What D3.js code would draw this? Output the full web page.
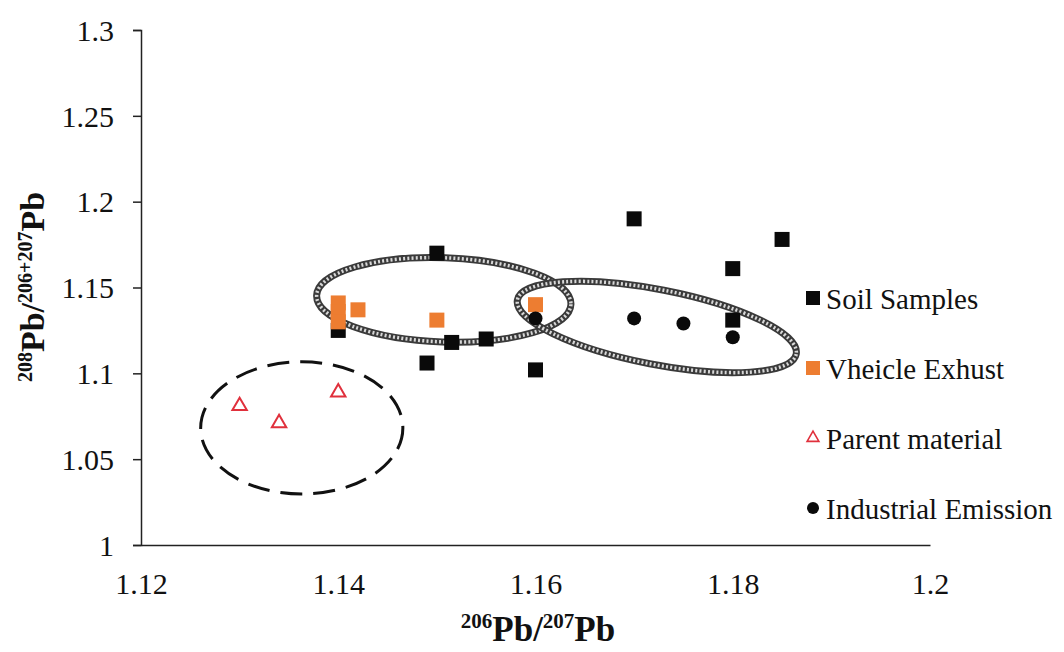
<!DOCTYPE html>
<html>
<head>
<meta charset="utf-8">
<title>Pb isotope ratios</title>
<style>
  body { margin: 0; background: #fff; }
  text { font-family: "Liberation Serif", "Times New Roman", serif; fill: #111; }
</style>
</head>
<body>
<svg id="viz" width="1064" height="652"></svg>
<script src="https://d3js.org/d3.v7.min.js"></script>
<script>
// ---- data ----
var soilX = [1.150, 1.170, 1.180, 1.185, 1.180, 1.140, 1.149, 1.1515, 1.155, 1.160];
var soilY = [1.170, 1.190, 1.161, 1.178, 1.131, 1.125, 1.106, 1.118, 1.120, 1.102];

var exhaustX = [1.140, 1.140, 1.140, 1.142, 1.150, 1.160];
var exhaustY = [1.141, 1.136, 1.130, 1.137, 1.131, 1.140];

var parentX = [1.130, 1.134, 1.140];
var parentY = [1.081, 1.071, 1.089];

var industryX = [1.160, 1.170, 1.175, 1.180];
var industryY = [1.132, 1.132, 1.129, 1.121];

var xTicks = [1.12, 1.14, 1.16, 1.18, 1.2];
var yTicks = [1, 1.05, 1.1, 1.15, 1.2, 1.25, 1.3];
var legendNames = ["Soil Samples", "Vheicle Exhust", "Parent material", "Industrial Emission"];

// group ellipses drawn on the chart (centre x, centre y, half width, half height, rotation)
var ellCx = [1.1507, 1.1723, 1.1363];
var ellCy = [1.1428, 1.1270, 1.0682];
var ellRx = [0.01290, 0.01440, 0.01025];
var ellRy = [0.0245, 0.0218, 0.0385];
var ellRot = [2, 11, 0];

var svg = d3.select("#viz");
// note: "top" is taken by window.top, so use m* names
var mLeft = 141, mRight = 930, mTop = 30, mBottom = 545;

var x = d3.scaleLinear().domain([1.12, 1.2]).range([mLeft, mRight]);
var y = d3.scaleLinear().domain([1, 1.3]).range([mBottom, mTop]);

// axes
var yAxis = svg.append("g")
  .attr("transform", "translate(" + mLeft + ",0)")
  .call(d3.axisLeft(y).tickValues(yTicks).tickSize(8).tickPadding(19)
    .tickFormat(function(d){ return String(+d.toFixed(2)); }));
yAxis.select(".domain").attr("stroke", "#222").attr("stroke-width", 1.5);
yAxis.selectAll(".tick line").attr("stroke", "#222").attr("stroke-width", 1.5);
yAxis.selectAll(".tick text").style("font-size", "30px").attr("dy", "0.34em");

var xAxis = svg.append("g")
  .attr("transform", "translate(0," + mBottom + ")")
  .call(d3.axisBottom(x).tickValues(xTicks).tickSize(0).tickPadding(49)
    .tickFormat(function(d){ return String(+d.toFixed(2)); }));
xAxis.select(".domain").attr("stroke", "#222").attr("stroke-width", 1.5);
xAxis.selectAll(".tick text").style("font-size", "30px").attr("dy", "0");

// axis titles
var xt = svg.append("text").attr("x", 538).attr("y", 641)
  .attr("text-anchor", "middle").style("font-weight", "bold").style("font-size", "35px");
xt.append("tspan").text("206").style("font-size", "21px").attr("dy", "-13");
xt.append("tspan").text("Pb/").attr("dy", "13");
xt.append("tspan").text("207").style("font-size", "21px").attr("dy", "-13");
xt.append("tspan").text("Pb").attr("dy", "13");

var yt = svg.append("text").attr("transform", "translate(44,287) rotate(-90)")
  .attr("text-anchor", "middle").style("font-weight", "bold").style("font-size", "34px");
yt.append("tspan").text("208").style("font-size", "20px").attr("dy", "-12");
yt.append("tspan").text("Pb/").attr("dy", "12");
yt.append("tspan").text("206+207").style("font-size", "20px").attr("dy", "-12");
yt.append("tspan").text("Pb").attr("dy", "12");

// ellipses
var ells = d3.range(ellCx.length).map(function(i){
  return { cx: x(ellCx[i]), cy: y(ellCy[i]),
           rx: x(ellCx[i] + ellRx[i]) - x(ellCx[i]),
           ry: y(ellCy[i]) - y(ellCy[i] + ellRy[i]), rot: ellRot[i], i: i };
});
function drawEll(sel) {
  return sel.append("ellipse")
    .attr("cx", 0).attr("cy", 0)
    .attr("rx", function(d){ return d.rx; }).attr("ry", function(d){ return d.ry; })
    .attr("fill", "none");
}
var eg = svg.selectAll(".ell").data(ells).enter().append("g")
  .attr("class", "ell")
  .attr("transform", function(d){ return "translate(" + d.cx + "," + d.cy + ") rotate(" + d.rot + ")"; });
// rope-like grey outlines for the first two, dashed for the third
var rope = eg.filter(function(d){ return d.i < 2; });
drawEll(rope).attr("stroke", "#3a3a3a").attr("stroke-width", 7);
drawEll(rope).attr("stroke", "#d8d8d8").attr("stroke-width", 3.5).attr("stroke-dasharray", "2,2.2");
drawEll(eg.filter(function(d){ return d.i == 2; }))
  .attr("stroke", "#111").attr("stroke-width", 3).attr("stroke-dasharray", "22,11");

// points
var sq = 15;
function squares(xs, ys, color) {
  svg.append("g").selectAll("rect").data(xs).enter().append("rect")
    .attr("x", function(d){ return x(d) - sq / 2; })
    .attr("y", function(d, i){ return y(ys[i]) - sq / 2; })
    .attr("width", sq).attr("height", sq)
    .attr("fill", color);
}
squares(soilX, soilY, "#0a0a0a");
squares(exhaustX, exhaustY, "#ED7D31");

svg.append("g").selectAll("circle").data(industryX).enter().append("circle")
  .attr("cx", function(d){ return x(d); })
  .attr("cy", function(d, i){ return y(industryY[i]); })
  .attr("r", 7).attr("fill", "#0a0a0a");

var tri = d3.symbol().type(d3.symbolTriangle).size(90);
svg.append("g").selectAll("path").data(parentX).enter().append("path")
  .attr("d", tri)
  .attr("transform", function(d, i){ return "translate(" + x(d) + "," + y(parentY[i]) + ")"; })
  .attr("fill", "#fff").attr("stroke", "#e0303c").attr("stroke-width", 2);

// legend
var lg = svg.append("g").attr("transform", "translate(813,298)");
var rows = lg.selectAll("g").data(legendNames).enter().append("g")
  .attr("transform", function(d, i){ return "translate(0," + (i * 70) + ")"; });
rows.filter(function(d, i){ return i < 2; }).append("rect")
  .attr("x", -7).attr("y", -7).attr("width", 14).attr("height", 14)
  .attr("fill", function(d, i){ return i == 0 ? "#0a0a0a" : "#ED7D31"; });
rows.filter(function(d, i){ return i == 2; }).append("path")
  .attr("d", d3.symbol().type(d3.symbolTriangle).size(60))
  .attr("fill", "#fff").attr("stroke", "#e0303c").attr("stroke-width", 1.6);
rows.filter(function(d, i){ return i == 3; }).append("circle")
  .attr("r", 6).attr("fill", "#0a0a0a");
rows.append("text").attr("x", 13).attr("y", 11)
  .style("font-size", "29px").text(function(d){ return d; });
</script>
</body>
</html>
